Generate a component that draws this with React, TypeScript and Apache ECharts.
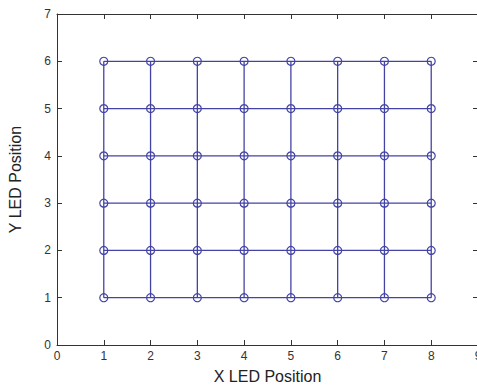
import React, { useEffect, useRef } from "react";
import * as echarts from "echarts";

const xPositions = [1, 2, 3, 4, 5, 6, 7, 8];
const yPositions = [1, 2, 3, 4, 5, 6];
const xTicks = [0, 1, 2, 3, 4, 5, 6, 7, 8, 9];
const yTicks = [0, 1, 2, 3, 4, 5, 6, 7];

const LINE_COLOR = "#4343a6";
const AXIS_COLOR = "#333";

export default function App() {
  const ref = useRef<HTMLDivElement>(null);
  useEffect(() => {
    if (!ref.current) return;
    const chart = echarts.init(ref.current, null, { renderer: "svg" });
    const series: any[] = [];
    const lineStyleBase = { color: LINE_COLOR, width: 1.3 };
    yPositions.forEach((y) => {
      series.push({
        type: "line",
        data: xPositions.map((x) => [x, y]),
        symbol: "circle",
        symbolSize: 8,
        showSymbol: true,
        itemStyle: { color: "rgba(0,0,0,0)", borderColor: LINE_COLOR, borderWidth: 1.2 },
        lineStyle: lineStyleBase,
        z: 3,
      });
    });
    xPositions.forEach((x) => {
      series.push({
        type: "line",
        data: yPositions.map((y) => [x, y]),
        symbol: "none",
        lineStyle: lineStyleBase,
        z: 2,
      });
    });
    const tickFont = { color: AXIS_COLOR, fontSize: 12, fontFamily: "Liberation Sans, Arial, sans-serif" };
    const axisLine = { show: true, onZero: false, lineStyle: { color: AXIS_COLOR, width: 1 } };
    const axisTick = { show: true, inside: true, length: 5, lineStyle: { color: AXIS_COLOR } };
    chart.setOption({
      animation: false,
      backgroundColor: "#fff",
      grid: { left: 57, top: 14, right: -1, bottom: 41, containLabel: false, outerBoundsMode: "none" },
      xAxis: [
        {
          type: "value",
          min: xTicks[0],
          max: xTicks[xTicks.length - 1],
          interval: 1,
          position: "bottom",
          axisLine,
          axisTick,
          splitLine: { show: false },
          axisLabel: { ...tickFont, margin: 5 },
          name: "X LED Position",
          nameLocation: "middle",
          nameGap: 23,
          nameTextStyle: { color: "#222", fontSize: 16, fontFamily: "Liberation Sans, Arial, sans-serif" },
        },
        {
          type: "value",
          min: xTicks[0],
          max: xTicks[xTicks.length - 1],
          interval: 1,
          position: "top",
          axisLine,
          axisTick,
          splitLine: { show: false },
          axisLabel: { show: false },
        },
      ],
      yAxis: [
        {
          type: "value",
          min: yTicks[0],
          max: yTicks[yTicks.length - 1],
          interval: 1,
          position: "left",
          axisLine,
          axisTick,
          splitLine: { show: false },
          axisLabel: { ...tickFont, margin: 6 },
          name: "Y LED Position",
          nameLocation: "middle",
          nameGap: 34,
          nameTextStyle: { color: "#222", fontSize: 16, fontFamily: "Liberation Sans, Arial, sans-serif" },
        },
        {
          type: "value",
          min: yTicks[0],
          max: yTicks[yTicks.length - 1],
          interval: 1,
          position: "right",
          axisLine,
          axisTick,
          splitLine: { show: false },
          axisLabel: { show: false },
        },
      ],
      series,
    });
    return () => chart.dispose();
  }, []);
  return (
    <div
      ref={ref}
      style={{ position: "fixed", left: 0, top: 0, width: 477, height: 386, background: "#fff" }}
    />
  );
}
